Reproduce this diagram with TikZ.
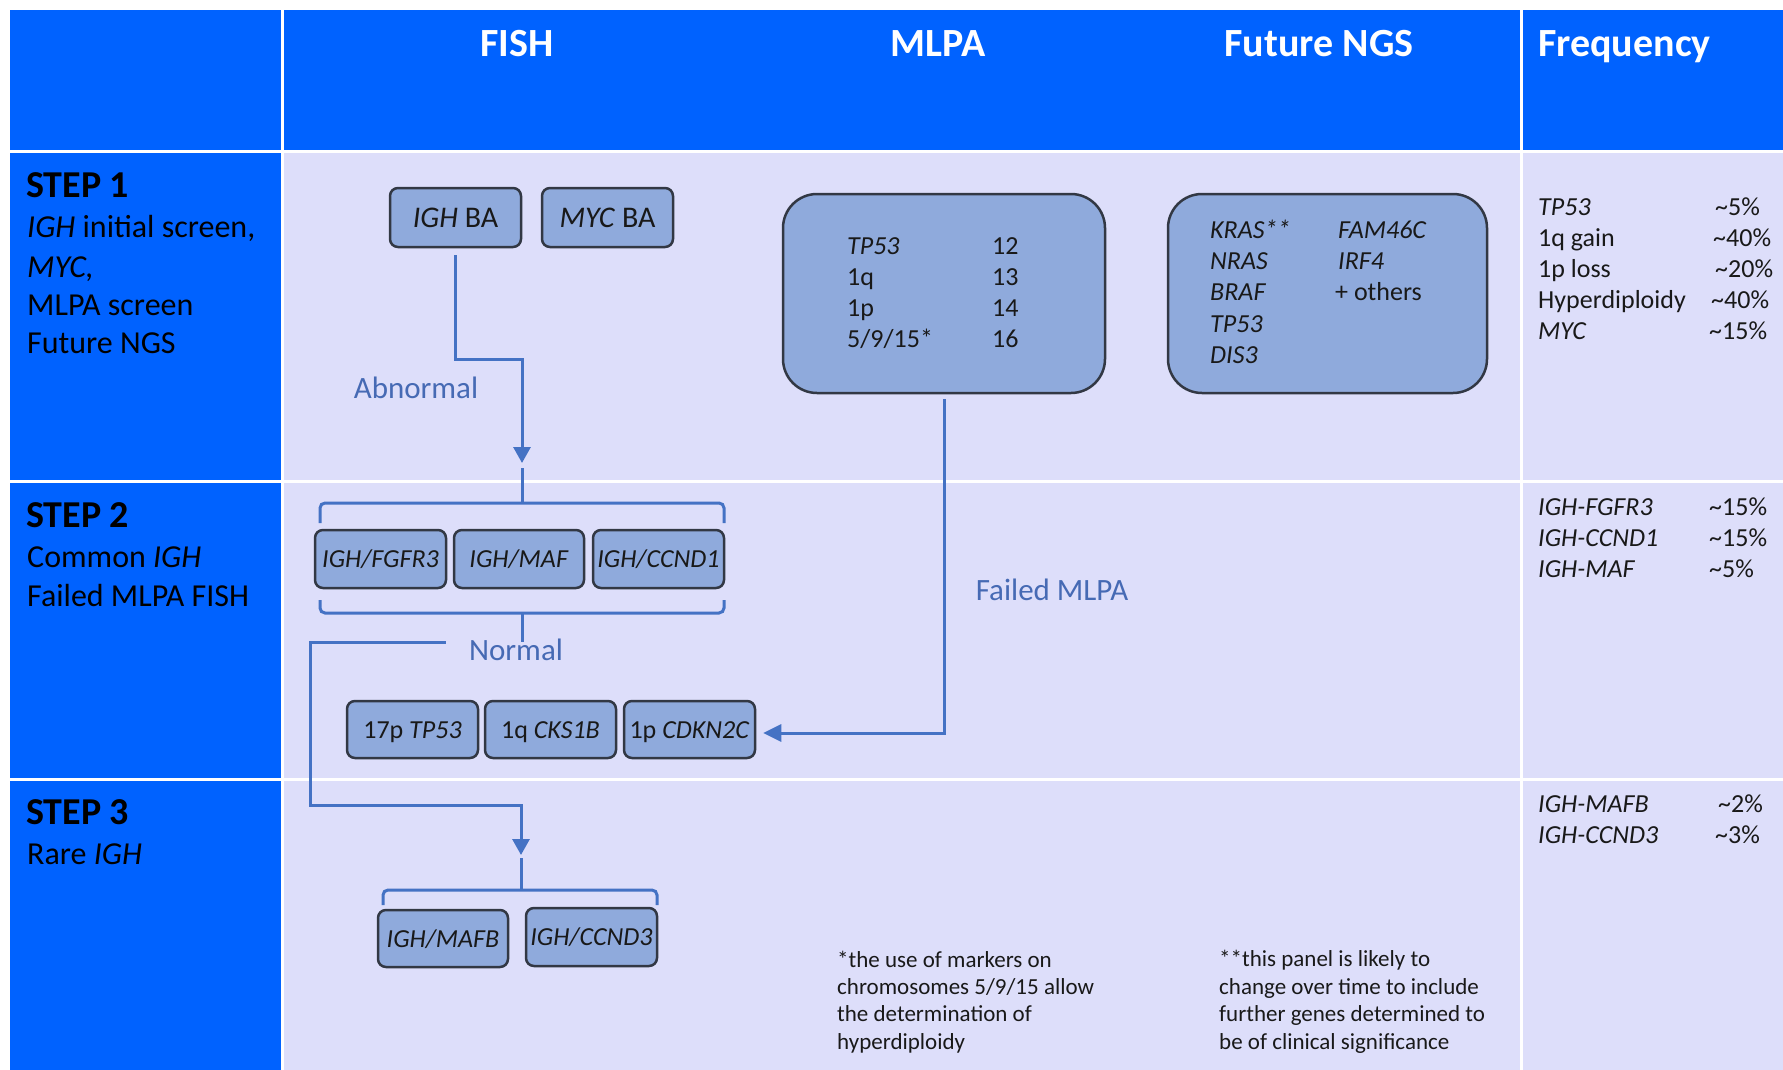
\documentclass[tikz,border=0pt]{standalone}
\usepackage{fontspec}
\setmainfont{Carlito}
\usetikzlibrary{arrows.meta,calc}

\definecolor{hdrblue}{RGB}{0,98,255}
\definecolor{lav}{RGB}{221,222,250}
\definecolor{boxfill}{RGB}{143,170,220}
\definecolor{boxedge}{RGB}{50,56,68}
\definecolor{flowblue}{RGB}{68,114,196}
\definecolor{lblblue}{RGB}{70,106,180}
\definecolor{ink}{RGB}{25,25,25}

\newcommand\setfs[2]{\fontsize{#1}{#2}\selectfont}

\begin{document}
\begin{tikzpicture}[x=1pt,y=-1pt,
  hdr/.style={text=white, font=\setfs{40}{48}\bfseries, inner sep=0, anchor=base},
  steptitle/.style={text=black, font=\setfs{38}{46}\bfseries, inner sep=0, anchor=base west},
  stepline/.style={text=black, font=\setfs{32}{38}, inner sep=0, anchor=base west},
  fbox/.style={draw=boxedge, line width=2.5pt, fill=boxfill, rounded corners=8pt,
    inner sep=0, text=ink, font=\setfs{26}{31}, text height=17pt, text depth=0pt},
  bigbox/.style={draw=boxedge, line width=2.5pt, fill=boxfill, rounded corners=34pt, inner sep=0},
  cell/.style={text=ink, font=\setfs{26}{31}, inner sep=0, anchor=base west},
  note/.style={text=ink, font=\setfs{23}{28}, inner sep=0, anchor=base west},
  lbl/.style={text=lblblue, font=\setfs{31}{37}, inner sep=0, anchor=base},
  flow/.style={draw=flowblue, line width=3pt},
  tip/.style={-{Triangle[length=16pt,width=17pt]}},
  brace/.style={draw=flowblue, line width=3pt, rounded corners=5pt}
]
\useasboundingbox (0,0) rectangle (1783,1070);
\fill[white] (0,0) rectangle (1783,1070);

% table cells
\fill[lav] (10,10) rectangle (1783,1070);
\fill[hdrblue] (10,10) rectangle (1783,152);
\fill[hdrblue] (10,152) rectangle (282,1070);
\draw[white, line width=3pt] (282,10) -- (282,1070);
\draw[white, line width=3pt] (1521,10) -- (1521,1070);
\draw[white, line width=3pt] (10,152) -- (1783,152);
\draw[white, line width=3pt] (10,481) -- (1783,481);
\draw[white, line width=3pt] (10,779) -- (1783,779);

% column headings
\node[hdr] (hfish) at (517,57) {FISH};
\node[hdr] (hmlpa) at (938,57) {MLPA};
\node[hdr] (hngs) at (1319,57) {Future NGS};
\node[hdr, anchor=base west] (hfreq) at (1538,57) {Frequency};

% row headings
\node[steptitle] (s1) at (26,197) {STEP 1};
\node[stepline] (s1a) at (27,237) {\textit{IGH} initial screen,};
\node[stepline] (s1b) at (27,277) {\textit{MYC,}};
\node[stepline] (s1c) at (27,315) {MLPA screen};
\node[stepline] (s1d) at (27,353) {Future NGS};

\node[steptitle] (s2) at (26,527) {STEP 2};
\node[stepline] (s2a) at (27,567) {Common \textit{IGH}};
\node[stepline] (s2b) at (27,606) {Failed MLPA FISH};

\node[steptitle] (s3) at (26,824) {STEP 3};
\node[stepline] (s3a) at (27,864) {Rare \textit{IGH}};

% step 1 probes
\node[fbox, font=\setfs{30}{36}, text height=19pt, minimum width=131pt, minimum height=59pt] (ighba) at (455.5,217.5) {\textit{IGH} BA};
\node[fbox, font=\setfs{30}{36}, text height=19pt, minimum width=131pt, minimum height=59pt] (mycba) at (607.5,217.5) {\textit{MYC} BA};

% MLPA panel
\node[bigbox, minimum width=322pt, minimum height=199pt] (mlpa) at (944,293.5) {};
\node[cell] (m1) at (847,254.5) {\textit{TP53}};
\node[cell] (m2) at (847,285) {1q};
\node[cell] (m3) at (847,316) {1p};
\node[cell] (m4) at (847,347) {5/9/15*};
\node[cell] (m5) at (992,254.5) {12};
\node[cell] (m6) at (992,285) {13};
\node[cell] (m7) at (992,316) {14};
\node[cell] (m8) at (992,347) {16};

% NGS panel
\node[bigbox, minimum width=319pt, minimum height=199pt] (ngs) at (1327.5,293.5) {};
\node[cell] (g1) at (1210,238) {\textit{KRAS**}};
\node[cell] (g2) at (1210,269) {\textit{NRAS}};
\node[cell] (g3) at (1210,300.5) {\textit{BRAF}};
\node[cell] (g4) at (1210,332) {\textit{TP53}};
\node[cell] (g5) at (1210,363) {\textit{DIS3}};
\node[cell] (g6) at (1338,238) {\textit{FAM46C}};
\node[cell] (g7) at (1338,269) {\textit{IRF4}};
\node[cell] (g8) at (1335,300.5) {+ others};

% step 2 probes
\node[fbox, minimum width=131pt, minimum height=58pt] (fgfr3) at (380.5,559) {\textit{IGH/FGFR3}};
\node[fbox, minimum width=130pt, minimum height=58pt] (maf) at (519,559) {\textit{IGH/MAF}};
\node[fbox, minimum width=131pt, minimum height=58pt] (ccnd1) at (658.5,559) {\textit{IGH/CCND1}};

\node[fbox, minimum width=131pt, minimum height=57pt] (tp53) at (412.5,729.5) {17p \textit{TP53}};
\node[fbox, minimum width=131pt, minimum height=57pt] (cks1b) at (550.5,729.5) {1q \textit{CKS1B}};
\node[fbox, minimum width=131pt, minimum height=57pt] (cdkn2c) at (689.5,729.5) {1p \textit{CDKN2C}};

% step 3 probes
\node[fbox, minimum width=130pt, minimum height=57pt] (mafb) at (443,938.5) {\textit{IGH/MAFB}};
\node[fbox, minimum width=131pt, minimum height=58pt] (ccnd3) at (591.5,937) {\textit{IGH/CCND3}};

% flow labels
\node[lbl] (abn) at (416,398) {Abnormal};
\node[lbl] (norm) at (516,660) {Normal};
\node[lbl] (fail) at (1052,600) {Failed MLPA};

% braces grouping the probe sets
\coordinate (tip1) at (522,463);
\coordinate (br1) at (522,468);
\draw[brace] (br1) -- (522,503);
\draw[brace] (320,523) -- (320,503) -- (724,503) -- (724,523);

\coordinate (br2) at (522,642);
\draw[brace] (320,600) -- (320,613) -- (724,613) -- (724,600);
\draw[brace] (522,613) -- (br2);

\coordinate (tip3) at (521,855);
\coordinate (br3) at (521,858);
\draw[brace] (br3) -- (521,890);
\draw[brace] (383,905) -- (383,890) -- (657,890) -- (657,905);

% connectors
\draw[flow, tip] ($(ighba.south)+(0,7)$) -- ++(0,104) -| (tip1);
\coordinate (nstart) at ($(norm.west)+(-23,-7)$);
\draw[flow, tip] (nstart) -- ++(-135,0) -- ++(0,163) -| (tip3);
\draw[flow, -{Triangle[length=18pt,width=17pt]}] ($(mlpa.south)+(0,5)$) |- ($(cdkn2c.east)+(7,3.5)$);

% frequency column
\node[cell] (f1) at (1538,215) {\textit{TP53}};
\node[cell] (f2) at (1538,246) {1q gain};
\node[cell] (f3) at (1538,277) {1p loss};
\node[cell] (f4) at (1538,308) {Hyperdiploidy};
\node[cell] (f5) at (1538,339) {\textit{MYC}};
\node[cell] (v1) at (1715,215) {\textasciitilde5\%};
\node[cell] (v2) at (1713,246) {\textasciitilde40\%};
\node[cell] (v3) at (1715,277) {\textasciitilde20\%};
\node[cell] (v4) at (1711,308) {\textasciitilde40\%};
\node[cell] (v5) at (1709,339) {\textasciitilde15\%};

\node[cell] (f6) at (1538,515) {\textit{IGH-FGFR3}};
\node[cell] (f7) at (1538,546) {\textit{IGH-CCND1}};
\node[cell] (f8) at (1538,577) {\textit{IGH-MAF}};
\node[cell] (v6) at (1709,515) {\textasciitilde15\%};
\node[cell] (v7) at (1709,546) {\textasciitilde15\%};
\node[cell] (v8) at (1709,577) {\textasciitilde5\%};

\node[cell] (f9) at (1538,812) {\textit{IGH-MAFB}};
\node[cell] (f10) at (1538,843) {\textit{IGH-CCND3}};
\node[cell] (v9) at (1718,812) {\textasciitilde2\%};
\node[cell] (v10) at (1715,843) {\textasciitilde3\%};

% footnotes
\node[note] (n1) at (837,967) {*the use of markers on};
\node[note] (n2) at (837,994) {chromosomes 5/9/15 allow};
\node[note] (n3) at (837,1021) {the determination of};
\node[note] (n4) at (837,1049) {hyperdiploidy};
\node[note] (n5) at (1219,966) {**this panel is likely to};
\node[note] (n6) at (1219,994) {change over time to include};
\node[note] (n7) at (1219,1021) {further genes determined to};
\node[note] (n8) at (1219,1049) {be of clinical significance};
\end{tikzpicture}
\end{document}
